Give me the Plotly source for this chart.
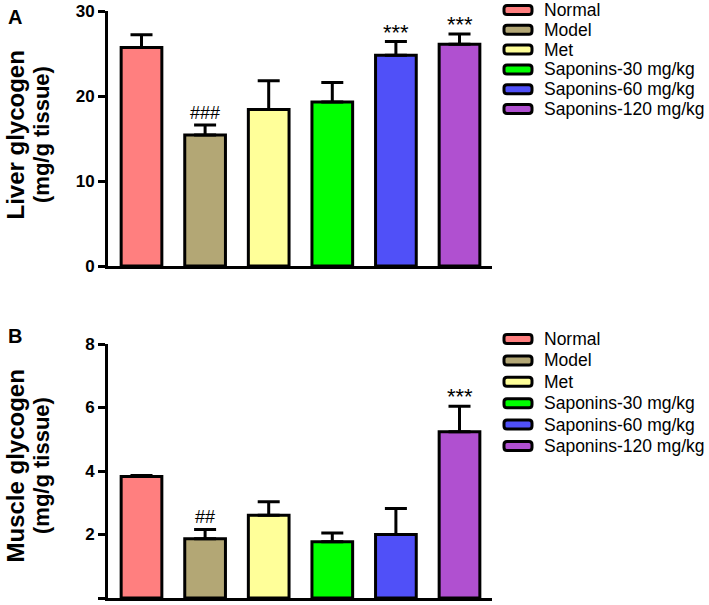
import plotly.graph_objects as go

W, H = 709, 605

categories = ["Normal", "Model", "Met", "Saponins-30 mg/kg", "Saponins-60 mg/kg", "Saponins-120 mg/kg"]
colors = ["#FF7F7F", "#B3A775", "#FFFF99", "#00FF00", "#5050F8", "#B050D0"]

liver_mean = [25.7, 15.4, 18.4, 19.3, 24.8, 26.1]
liver_err = [1.5, 1.2, 3.4, 2.3, 1.6, 1.2]
liver_sig = ["", "###", "", "", "***", "***"]

muscle_mean = [3.83, 1.87, 2.61, 1.77, 2.00, 5.24]
muscle_err = [0.03, 0.29, 0.42, 0.28, 0.82, 0.80]
muscle_sig = ["", "##", "", "", "", "***"]

liver_ticks = [0, 10, 20, 30]
muscle_ticks = [0, 2, 4, 6, 8]

FONT = "Liberation Sans, Arial, sans-serif"


def px_x(px):
    return px / W


def px_y(py):
    return 1 - py / H


fig = go.Figure()
x_idx = list(range(len(categories)))

panels = [
    dict(mean=liver_mean, err=liver_err, sig=liver_sig, xa="x", ya="y"),
    dict(mean=muscle_mean, err=muscle_err, sig=muscle_sig, xa="x2", ya="y2"),
]

annotations = []
shapes = []

for p in panels:
    fig.add_trace(go.Bar(
        x=x_idx, y=p["mean"], width=0.64,
        marker=dict(color=colors, line=dict(color="black", width=3)),
        error_y=dict(type="data", array=p["err"], arrayminus=[0] * len(p["err"]),
                     symmetric=False, color="black", thickness=3, width=11),
        xaxis=p["xa"], yaxis=p["ya"], showlegend=False, hoverinfo="skip",
    ))
    for i, s in enumerate(p["sig"]):
        if s:
            star = "*" in s
            annotations.append(dict(
                x=i, y=p["mean"][i] + p["err"][i], xref=p["xa"], yref=p["ya"],
                text=s, showarrow=False, yanchor="bottom", xanchor="center",
                yshift=(-5 if star else 0),
                font=dict(family=FONT, size=(22 if star else 18), color="black"),
            ))

x_left, x_right = 108, 492
pitch = 63.6
c0 = 141.5
xr = [(x_left - c0) / pitch, (x_right - c0) / pitch]

axis_common = dict(showline=True, linecolor="black", linewidth=3, showgrid=False, zeroline=False)
ytick_style = dict(ticks="outside", ticklen=7, tickwidth=2.5, tickcolor="black",
                   tickfont=dict(family=FONT, size=17, color="black", weight="bold"),
                   automargin=False)

fig.update_layout(
    width=W, height=H,
    margin=dict(l=0, r=0, t=0, b=0),
    paper_bgcolor="white", plot_bgcolor="white",
    xaxis=dict(domain=[px_x(x_left), px_x(x_right)], range=xr, showticklabels=False,
               ticks="", anchor="y", **axis_common),
    yaxis=dict(domain=[px_y(266), px_y(11)], range=[0, 30], tickvals=liver_ticks,
               anchor="x", **ytick_style, **axis_common),
    xaxis2=dict(domain=[px_x(x_left), px_x(x_right)], range=xr, showticklabels=False,
                ticks="", anchor="y2", **axis_common),
    yaxis2=dict(domain=[px_y(598), px_y(344)], range=[0, 8], tickvals=muscle_ticks,
                anchor="x2", **ytick_style, **axis_common),
)

# panel letters
annotations.append(dict(x=px_x(15), y=px_y(17), xref="paper", yref="paper", text="<b>A</b>",
                        showarrow=False, xanchor="center", yanchor="middle",
                        font=dict(family=FONT, size=20, color="black")))
annotations.append(dict(x=px_x(15), y=px_y(336), xref="paper", yref="paper", text="<b>B</b>",
                        showarrow=False, xanchor="center", yanchor="middle",
                        font=dict(family=FONT, size=20, color="black")))

# y-axis titles
for line1, line2, cy in [("Liver glycogen", "(mg/g tissue)", 135), ("Muscle glycogen", "(mg/g tissue)", 466)]:
    annotations.append(dict(x=px_x(14.5), y=px_y(cy), xref="paper", yref="paper", text="<b>%s</b>" % line1,
                            showarrow=False, textangle=-90, xanchor="center", yanchor="middle",
                            font=dict(family=FONT, size=24, color="black")))
    annotations.append(dict(x=px_x(41), y=px_y(cy), xref="paper", yref="paper", text="<b>%s</b>" % line2,
                            showarrow=False, textangle=-90, xanchor="center", yanchor="middle",
                            font=dict(family=FONT, size=22, color="black")))


def rounded_rect(x0, y0, x1, y1, r):
    X = px_x
    Y = px_y
    return ("M %f,%f L %f,%f Q %f,%f %f,%f L %f,%f Q %f,%f %f,%f L %f,%f Q %f,%f %f,%f L %f,%f Q %f,%f %f,%f Z" % (
        X(x0 + r), Y(y0), X(x1 - r), Y(y0), X(x1), Y(y0), X(x1), Y(y0 + r),
        X(x1), Y(y1 - r), X(x1), Y(y1), X(x1 - r), Y(y1),
        X(x0 + r), Y(y1), X(x0), Y(y1), X(x0), Y(y1 - r),
        X(x0), Y(y0 + r), X(x0), Y(y0), X(x0 + r), Y(y0)))


# legends (one per panel)
for start, step in [(10, 19.8), (339, 21.4)]:
    for i, (cat, col) in enumerate(zip(categories, colors)):
        cy = start + i * step
        shapes.append(dict(type="path", xref="paper", yref="paper",
                           path=rounded_rect(504, cy - 4.5, 532, cy + 4.5, 3),
                           fillcolor=col, line=dict(color="black", width=3)))
        annotations.append(dict(x=px_x(543), y=px_y(cy), xref="paper", yref="paper", text=cat,
                                showarrow=False, xanchor="left", yanchor="middle", borderpad=0,
                                font=dict(family=FONT, size=17.5, color="black")))

fig.update_layout(annotations=annotations, shapes=shapes)
fig.write_html("out.html",
               config={"displayModeBar": False},
               post_script="document.body.style.margin='0';document.body.style.padding='0';")
